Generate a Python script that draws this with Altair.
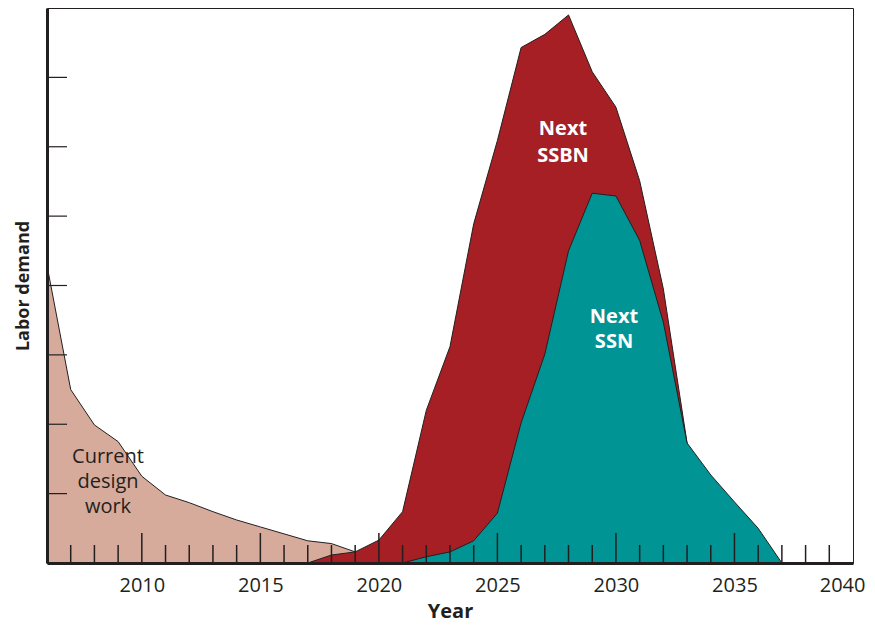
import altair as alt
import pandas as pd

# ---- data ----
current_years = list(range(2006, 2021))
current_values = [4.29, 2.50, 1.99, 1.75, 1.25, 0.98, 0.87, 0.74, 0.62, 0.52, 0.42, 0.32, 0.28, 0.16, 0.0]

ssbn_years = list(range(2017, 2034))
ssbn_values = [0.0, 0.115, 0.16, 0.33, 0.74, 2.20, 3.12, 4.89, 6.09, 7.43, 7.62, 7.90, 7.08, 6.57, 5.51, 3.95, 1.73]

ssn_years = list(range(2021, 2038))
ssn_values = [0.0, 0.09, 0.16, 0.32, 0.72, 2.02, 3.01, 4.50, 5.33, 5.29, 4.65, 3.47, 1.73, 1.27, 0.88, 0.50, 0.0]

minor_tick_years = [y for y in range(2007, 2040) if y % 5 != 0]
major_tick_years = [2010, 2015, 2020, 2025, 2030, 2035]
y_tick_values = [1, 2, 3, 4, 5, 6, 7]
x_label_values = [2010, 2015, 2020, 2025, 2030, 2035, 2040]

# ---- styling ----
W, H = 806, 555
INK = "#231f20"
FONT = "Open Sans"
TAN = "#d6ab9b"
RED = "#a51f24"
TEAL = "#009494"

xs = alt.Scale(domain=[2006, 2040], nice=False, zero=False)
ys = alt.Scale(domain=[0, 8], nice=False)

x_axis = alt.Axis(values=x_label_values, format="d", ticks=False, grid=False,
                  labelFontSize=20, labelFont=FONT, labelColor=INK, labelPadding=12,
                  labelFlush=True, labelFlushOffset=12,
                  domainColor=INK, domainWidth=3, zindex=1,
                  title="Year", titleFont=FONT, titleFontSize=20, titleFontWeight="bold",
                  titleColor=INK, titlePadding=6)
y_axis = alt.Axis(labels=False, ticks=False, grid=False,
                  domainColor=INK, domainWidth=3, zindex=1,
                  title="Labor demand", titleFont=FONT, titleFontSize=18,
                  titleFontWeight="bold", titleColor=INK, titlePadding=15)

X = alt.X("year:Q", scale=xs, axis=x_axis)
Y = alt.Y("value:Q", scale=ys, axis=y_axis)

df_cur = pd.DataFrame({"year": current_years, "value": current_values})
df_ssbn = pd.DataFrame({"year": ssbn_years, "value": ssbn_values})
df_ssn = pd.DataFrame({"year": ssn_years, "value": ssn_values})

cur = alt.Chart(df_cur).mark_area(color=TAN, stroke=INK, strokeWidth=1, opacity=1).encode(x=X, y=Y)
ssbn = alt.Chart(df_ssbn).mark_area(color=RED, stroke=INK, strokeWidth=1, opacity=1).encode(x=X, y=Y)
ssn = alt.Chart(df_ssn).mark_area(color=TEAL, stroke=INK, strokeWidth=1, opacity=1).encode(x=X, y=Y)

minor_ticks = alt.Chart(pd.DataFrame({"year": minor_tick_years})).mark_rule(
    color=INK, strokeWidth=1.5).encode(
    x=X, y=alt.value(H), y2=alt.value(H - 18),
)
major_ticks = alt.Chart(pd.DataFrame({"year": major_tick_years})).mark_rule(
    color=INK, strokeWidth=1.5).encode(
    x=X, y=alt.value(H), y2=alt.value(H - 30),
)
y_ticks = alt.Chart(pd.DataFrame({"value": y_tick_values})).mark_rule(
    color=INK, strokeWidth=1.2).encode(
    y=Y, x=alt.value(0), x2=alt.value(20),
)

one = alt.Data(values=[{"a": 0}])
lbl_cur = alt.Chart(one).mark_text(
    text=["Current", "design", "work"], lineHeight=25, fontSize=20, font=FONT,
    color=INK, align="center", baseline="middle").encode(
    x=alt.value(61), y=alt.value(449))
lbl_ssbn = alt.Chart(one).mark_text(
    text=["Next", "SSBN"], lineHeight=27, fontSize=20, font=FONT, fontWeight="bold",
    color="white", align="center", baseline="middle").encode(
    x=alt.value(516), y=alt.value(121))
lbl_ssn = alt.Chart(one).mark_text(
    text=["Next", "SSN"], lineHeight=25, fontSize=20, font=FONT, fontWeight="bold",
    color="white", align="center", baseline="middle").encode(
    x=alt.value(567), y=alt.value(309))

chart = alt.layer(cur, ssbn, ssn, minor_ticks, major_ticks, y_ticks,
                  lbl_cur, lbl_ssbn, lbl_ssn).properties(
    width=W, height=H,
    autosize=alt.AutoSizeParams(type="none"),
    padding={"left": 39, "top": 0, "right": 14, "bottom": 61},
).configure_view(stroke=INK, strokeWidth=1)

chart.save("out.html", embed_options={"renderer": "svg", "actions": False})
